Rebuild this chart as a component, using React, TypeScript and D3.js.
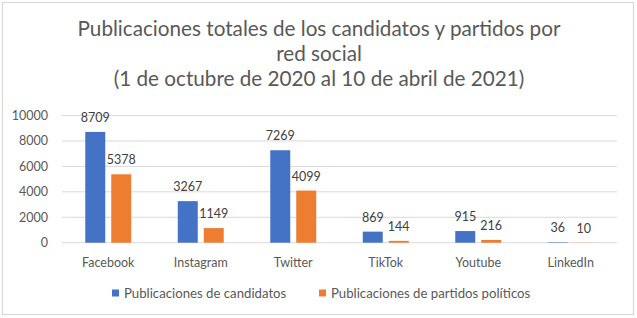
import React from "react";
import * as d3 from "d3";

const categories = ["Facebook", "Instagram", "Twitter", "TikTok", "Youtube", "LinkedIn"];
const seriesNames = ["Publicaciones de candidatos", "Publicaciones de partidos políticos"];
const candidatos = [8709, 3267, 7269, 869, 915, 36];
const partidos = [5378, 1149, 4099, 144, 216, 10];
const yTicks = [0, 2000, 4000, 6000, 8000, 10000];
const titleLines = [
  "Publicaciones totales de los candidatos y partidos por",
  "red social",
  "(1 de octubre de 2020 al 10 de abril de 2021)",
];
const colors = ["#4472C4", "#ED7D31"];

const W = 637;
const H = 318;
const FONT = "Lato, 'Open Sans', sans-serif";
const TEXT = "#595959";

export default function App() {
  const plot = { left: 62, right: 617, top: 115.5, bottom: 242.7 };
  const x0 = d3
    .scaleBand<string>()
    .domain(categories)
    .range([plot.left, plot.right])
    .paddingInner(0.503)
    .paddingOuter(0.2515);
  const x1 = d3
    .scaleBand<string>()
    .domain(seriesNames)
    .range([0, x0.bandwidth()])
    .paddingInner(0.2308);
  const y = d3.scaleLinear().domain([0, 10000]).range([plot.bottom, plot.top]);
  const data = [candidatos, partidos];

  return (
    <svg
      width={W}
      height={H}
      style={{ position: "absolute", left: 0, top: 0, background: "#fff" }}
      fontFamily={FONT}
    >
      <rect x={0} y={0} width={W} height={H} fill="#fff" />
      <rect x={2.5} y={2.5} width={631} height={312} fill="none" stroke="#D9D9D9" strokeWidth={1.2} />
      {titleLines.map((t, i) => (
        <text key={i} x={319} y={36 + i * 25} textAnchor="middle" fontSize={20.7} fill={TEXT}>
          {t}
        </text>
      ))}
      {yTicks.map((t) => (
        <g key={t}>
          <line x1={plot.left} x2={plot.right} y1={y(t)} y2={y(t)} stroke="#D9D9D9" strokeWidth={1} />
          <text x={48} y={y(t)} dy="0.35em" textAnchor="end" fontSize={12.5} fill={TEXT}>
            {t}
          </text>
        </g>
      ))}
      {categories.map((c, ci) => (
        <g key={c} transform={`translate(${x0(c)},0)`}>
          {seriesNames.map((s, si) => {
            const v = data[si][ci];
            const bx = x1(s)!;
            return (
              <g key={s}>
                <rect
                  x={bx}
                  y={y(v)}
                  width={x1.bandwidth()}
                  height={plot.bottom - y(v)}
                  fill={colors[si]}
                />
                <text
                  x={bx + x1.bandwidth() / 2}
                  y={y(v) - 10}
                  textAnchor="middle"
                  fontSize={12.5}
                  fill="#404040"
                >
                  {v}
                </text>
              </g>
            );
          })}
          <text
            x={x0.bandwidth() / 2}
            y={262.7}
            dy="0.35em"
            textAnchor="middle"
            fontSize={12.5}
            fill={TEXT}
          >
            {c}
          </text>
        </g>
      ))}
      {seriesNames.map((s, si) => {
        const lx = si === 0 ? 112 : 319;
        return (
          <g key={s}>
            <rect x={lx} y={289.5} width={7} height={7} fill={colors[si]} />
            <text x={lx + 12} y={293} dy="0.35em" fontSize={13.2} fill={TEXT}>
              {s}
            </text>
          </g>
        );
      })}
    </svg>
  );
}
